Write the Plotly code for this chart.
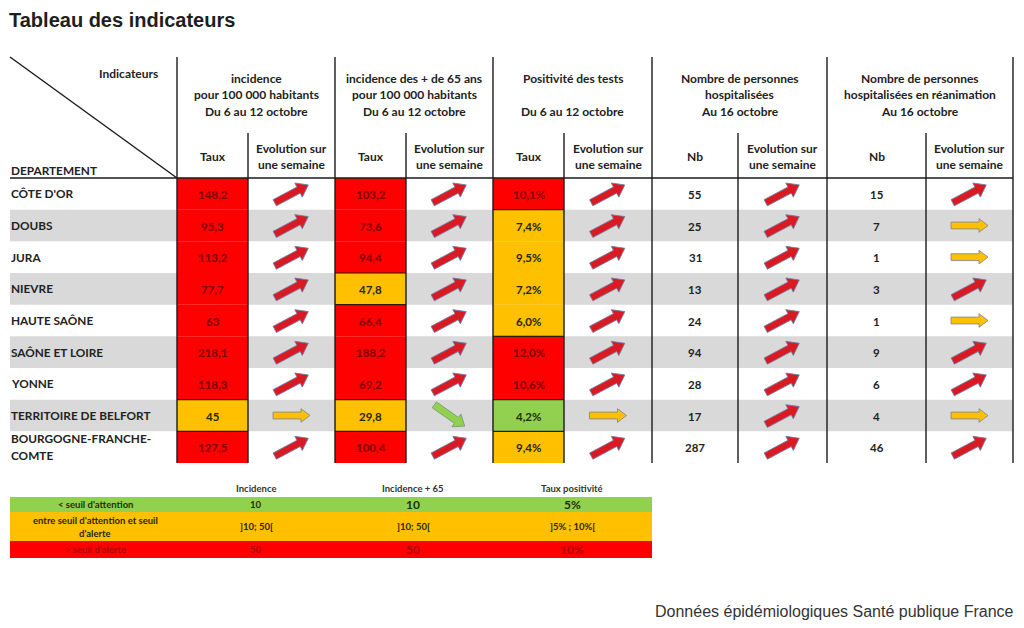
import math
import plotly.graph_objects as go

# ---------------- data ----------------
departements = ["CÔTE D'OR", "DOUBS", "JURA", "NIEVRE", "HAUTE SAÔNE",
                "SAÔNE ET LOIRE", "YONNE", "TERRITOIRE DE BELFORT",
                "BOURGOGNE-FRANCHE-<br>COMTE"]
incidence = [148.2, 95.3, 113.2, 77.7, 63, 218.1, 118.3, 45, 127.5]
incidence_evol = ["up", "up", "up", "up", "up", "up", "up", "flat", "up"]
incidence65 = [103.2, 73.6, 94.4, 47.8, 66.4, 188.2, 69.2, 29.8, 100.4]
incidence65_evol = ["up", "up", "up", "up", "up", "up", "up", "down", "up"]
positivite = [10.1, 7.4, 9.5, 7.2, 6.0, 12.0, 10.6, 4.2, 9.4]
positivite_evol = ["up", "up", "up", "up", "up", "up", "up", "flat", "up"]
hospitalises = [55, 25, 31, 13, 24, 94, 28, 17, 287]
hospitalises_evol = ["up", "up", "up", "up", "up", "up", "up", "up", "up"]
reanimation = [15, 7, 1, 3, 1, 9, 6, 4, 46]
reanimation_evol = ["up", "flat", "flat", "up", "flat", "up", "up", "flat", "up"]

seuil_attention = {"incidence": 10, "incidence65": 10, "positivite": 5}
seuil_alerte = {"incidence": 50, "incidence65": 50, "positivite": 10}

group_headers = [
    ["incidence", "pour 100 000 habitants", "Du 6 au 12 octobre"],
    ["incidence des + de 65 ans", "pour 100 000 habitants", "Du 6 au 12 octobre"],
    ["Positivité des tests", "", "Du 6 au 12 octobre"],
    ["Nombre de personnes", "hospitalisées", "Au 16 octobre"],
    ["Nombre de personnes", "hospitalisées en réanimation", "Au 16 octobre"],
]
value_headers = ["Taux", "Taux", "Taux", "Nb", "Nb"]
evol_header = ["Evolution sur", "une semaine"]

legend_columns = ["Incidence", "Incidence + 65", "Taux positivité"]
legend_rows = ["< seuil d'attention", "entre seuil d'attention et seuil<br>d'alerte",
               "> seuil d'alerte"]
legend_incidence = ["10", "]10; 50[", "50"]
legend_incidence65 = ["10", "]10; 50[", "50"]
legend_positivite = ["5%", "]5% ; 10%[", "10%"]

title_text = "Tableau des indicateurs"
source_text = "Données épidémiologiques Santé publique France"

# ---------------- styles / layout ----------------
GREEN, ORANGE, RED = "#92D050", "#FFC000", "#FF0000"
GREY = "#D9D9D9"
FONT = "Lato"
W, H = 1024, 628
PAGE_OFFSET = 8  # default body margin of the html page
X_LEFT, X_RIGHT = 10, 1013
MAJOR = [177, 335, 493, 652, 827, 1013]
SUB = [248, 406, 564, 738, 926]
Y_TOP, Y_SUB, Y_HEAD, Y_BOTTOM = 57, 133, 178, 463
n = len(departements)
ROW_H = (Y_BOTTOM - Y_HEAD) / n


def level_color(v, key):
    if v < seuil_attention[key]:
        return GREEN
    if v > seuil_alerte[key]:
        return RED
    return ORANGE


def text_color(c):
    return {RED: "#7c0000", ORANGE: "#2b2400", GREEN: "#1c3300"}.get(c, "#222222")


def fmt_g(v):
    return f"{v:g}".replace(".", ",")


def fmt_pct(v):
    return f"{v:.1f}".replace(".", ",") + "%"


ARROW_STYLE = {
    "up": dict(ang=28, L=38, s=3.5, h=8.0, hl=11, fill="#DA1A22", line="#6e7fa6"),
    "down": dict(ang=-35, L=37, s=3.6, h=7.8, hl=10, fill=GREEN, line="#7c9a78"),
    "flat": dict(ang=0, L=37, s=3.4, h=6.8, hl=9, fill=ORANGE, line="#8a8a8a"),
}


def arrow_path(cx, cy, kind):
    st = ARROW_STYLE[kind]
    a = math.radians(st["ang"])
    dx, dy = math.cos(a), -math.sin(a)
    px, py = -dy, dx
    L, s, h, hl = st["L"], st["s"], st["h"], st["hl"]
    pts = [(-L / 2, -s), (L / 2 - hl, -s), (L / 2 - hl, -h), (L / 2, 0),
           (L / 2 - hl, h), (L / 2 - hl, s), (-L / 2, s)]
    xy = [(cx + u * dx + v * px, cy + u * dy + v * py) for u, v in pts]
    return "M " + " L ".join(f"{x:.2f},{y:.2f}" for x, y in xy) + " Z"


fig = go.Figure()
fig.add_trace(go.Scatter(x=[PAGE_OFFSET, W], y=[PAGE_OFFSET, H], mode="markers",
                         marker=dict(opacity=0), hoverinfo="skip", showlegend=False))
shapes, annots = [], []


def rect(x0, y0, x1, y1, fill):
    shapes.append(dict(type="rect", xref="x", yref="y", x0=x0, y0=y0, x1=x1, y1=y1,
                       fillcolor=fill, line=dict(width=0), layer="below"))


def line(x0, y0, x1, y1, w=1.4, c="#1a1a1a"):
    shapes.append(dict(type="line", xref="x", yref="y", x0=x0, y0=y0, x1=x1, y1=y1,
                       line=dict(width=w, color=c), layer="above"))


def text(x, y, s, size=11, color="#222222", bold=True, anchor="center", family=FONT,
         xshift=0):
    annots.append(dict(x=x, y=y, xref="x", yref="y", text=f"<b>{s}</b>" if bold else s,
                       showarrow=False, xanchor=anchor, yanchor="middle", xshift=xshift,
                       font=dict(family=family, size=size, color=color)))


# grey bands
for i in range(n):
    if i % 2 == 1:
        rect(X_LEFT, Y_HEAD + i * ROW_H, X_RIGHT, Y_HEAD + (i + 1) * ROW_H, GREY)

columns = [
    (incidence, incidence_evol, "incidence", fmt_g),
    (incidence65, incidence65_evol, "incidence65", fmt_g),
    (positivite, positivite_evol, "positivite", fmt_pct),
    (hospitalises, hospitalises_evol, None, fmt_g),
    (reanimation, reanimation_evol, None, fmt_g),
]

for g, (vals, evol, key, fmt) in enumerate(columns):
    xa, xb, xc = MAJOR[g], SUB[g], MAJOR[g + 1]
    colors = [level_color(v, key) if key else None for v in vals]
    for i, v in enumerate(vals):
        y0 = Y_HEAD + i * ROW_H
        y1 = y0 + ROW_H
        cy = (y0 + y1) / 2
        c = colors[i]
        if c:
            rect(xa, y0, xb, y1, c)
            if i > 0 and colors[i - 1] != c:
                line(xa, y0, xb, y0, 1.2, "#2a1a00")
        text((xa + xb) / 2, cy + 0.5, fmt(v), 11.5, text_color(c))
        shapes.append(dict(type="path", xref="x", yref="y",
                           path=arrow_path((xb + xc) / 2, cy, evol[i]),
                           fillcolor=ARROW_STYLE[evol[i]]["fill"],
                           line=dict(width=0.9, color=ARROW_STYLE[evol[i]]["line"]),
                           layer="above"))

# grid lines
for x in MAJOR:
    line(x, Y_TOP, x, Y_BOTTOM)
for x in SUB:
    line(x, Y_SUB, x, Y_BOTTOM)
line(X_LEFT, Y_HEAD, X_RIGHT, Y_HEAD)
line(X_LEFT, Y_TOP, MAJOR[0], Y_HEAD)

# department labels
for i, d in enumerate(departements):
    cy = Y_HEAD + (i + 0.5) * ROW_H
    if "<br>" in d:
        parts = d.split("<br>")
        text(X_LEFT, cy - 8.5, parts[0], 11.8, anchor="left", xshift=-1)
        text(X_LEFT, cy + 8.5, parts[1], 11.8, anchor="left", xshift=-1)
    else:
        text(X_LEFT, cy, d, 11.8, anchor="left", xshift=-1)

# headers
text(128, 73, "Indicateurs", 12)
text(X_LEFT, 170, "DEPARTEMENT", 11.8, anchor="left", xshift=-1)
for g, lines_ in enumerate(group_headers):
    cx = (MAJOR[g] + MAJOR[g + 1]) / 2
    for k, s in enumerate(lines_):
        if s:
            text(cx, 78 + 16.5 * k, s, 12)
    text((MAJOR[g] + SUB[g]) / 2, 156, value_headers[g], 12)
    ex = (SUB[g] + MAJOR[g + 1]) / 2
    text(ex, 148, evol_header[0], 12)
    text(ex, 164, evol_header[1], 12)

# title and source
text(X_LEFT, 20, title_text, 20, "#1e1e1e", True, "left", "Liberation Sans", xshift=-3)
text(X_RIGHT, 611, source_text, 16, "#333333", False, "right", "Liberation Sans", xshift=3)

# legend
LEG_X = [X_LEFT, 652]
LEG_Y = [497, 512, 541, 558]
leg_colors = [GREEN, ORANGE, RED]
leg_text = ["#1c3300", "#2b2400", "#b30000"]
leg_vals = [legend_incidence, legend_incidence65, legend_positivite]
leg_cx = [95, 256, 413, 572]
for j, lab in enumerate(legend_columns):
    text(leg_cx[j + 1], 488, lab, 9.5, "#333333")
for r in range(3):
    rect(LEG_X[0], LEG_Y[r], LEG_X[-1], LEG_Y[r + 1], leg_colors[r])
    cy = (LEG_Y[r] + LEG_Y[r + 1]) / 2
    lab = legend_rows[r]
    if "<br>" in lab:
        a, b = lab.split("<br>")
        text(leg_cx[0], cy - 6.5, a, 9.5, leg_text[r])
        text(leg_cx[0], cy + 6.5, b, 9.5, leg_text[r])
    else:
        text(leg_cx[0], cy, lab, 9.5, leg_text[r])
    for j in range(3):
        size = 12 if (j >= 1 and r != 1) else 9.5
        text(leg_cx[j + 1], cy, leg_vals[j][r], size, leg_text[r])

fig.update_layout(
    width=W - PAGE_OFFSET, height=H - 2 * PAGE_OFFSET,
    margin=dict(l=0, r=0, t=0, b=0, pad=0),
    paper_bgcolor="white", plot_bgcolor="white",
    xaxis=dict(range=[PAGE_OFFSET, W], visible=False, fixedrange=True),
    yaxis=dict(range=[H - PAGE_OFFSET, PAGE_OFFSET], visible=False, fixedrange=True),
    shapes=shapes, annotations=annots, showlegend=False,
)
fig.write_html("out.html")
